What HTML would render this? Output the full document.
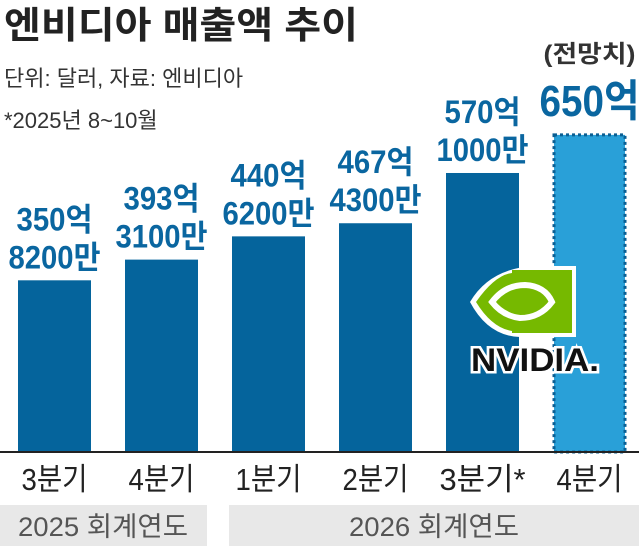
<!DOCTYPE html>
<html><head><meta charset="utf-8"><style>
body{margin:0;background:#fff;}
svg{display:block;font-family:"Liberation Sans","Noto Sans CJK KR",sans-serif;}
</style></head><body>
<svg id="c" width="639" height="546" viewBox="0 0 639 546">
<text x="4" y="38" font-size="37" font-weight="bold" fill="#222" textLength="354" lengthAdjust="spacingAndGlyphs">엔비디아 매출액 추이</text>
<text x="4" y="86" font-size="22" fill="#333">단위: 달러, 자료: 엔비디아</text>
<text x="4" y="128" font-size="22" fill="#333">*2025년 8~10월</text>
<g id="bars"></g>
<line x1="0" y1="452" x2="639" y2="452" stroke="#222" stroke-width="2"/>
<rect x="0" y="505" width="207" height="41" fill="#e8e8e8"/>
<rect x="229" y="505" width="410" height="41" fill="#e8e8e8"/>
<text x="103" y="536" font-size="27" fill="#555" text-anchor="middle" textLength="170" lengthAdjust="spacingAndGlyphs">2025 회계연도</text>
<text x="434" y="536" font-size="27" fill="#555" text-anchor="middle" textLength="170" lengthAdjust="spacingAndGlyphs">2026 회계연도</text>
<g>
<path d="M470 302 Q490 268 535 266 L576 266 L576 337 L520 337 Q488 336 470 302 Z" fill="#fff"/>
<rect x="512" y="270" width="60" height="63" fill="#76b900"/>
<path d="M476 302 Q495 275 512 273 L512 331 Q492 328 476 302 Z" fill="#76b900"/>
<path d="M492 302 Q505 285 525 285 Q545 286 552 302 Q540 318 520 318 Q503 316 492 302 Z" fill="none" stroke="#fff" stroke-width="6"/>
<text x="535" y="371" font-size="32" font-weight="bold" text-anchor="middle" fill="#111" stroke="#fff" stroke-width="5" paint-order="stroke" textLength="128" lengthAdjust="spacingAndGlyphs">NVIDIA.</text>
</g>
</svg>
<script>
const categories=["3분기","4분기","1분기","2분기","3분기*","4분기"];
const values=[350.82,393.1,440.62,467.43,570.1,650];
const line1=["350억","393억","440억","467억","570억","650억"];
const line2=["8200만","3100만","6200만","4300만","1000만",""];
const forecast=[false,false,false,false,false,true];
const NS="http://www.w3.org/2000/svg";
const g=document.getElementById("bars");
const base=452,k=0.4894,x0=18,pitch=107,bw=73;
function y(v){return base-v*k;}
function mk(t,a){const e=document.createElementNS(NS,t);for(const n in a)e.setAttribute(n,a[n]);g.appendChild(e);return e;}
values.forEach((v,i)=>{
 const x=x0+i*pitch,cx=x+bw/2,top=y(v);
 const r=mk("rect",forecast[i]?{x:x+1,y:top+1,width:bw-2,height:base-top-1,fill:"#29a0d8",stroke:"#0b5f93","stroke-width":3,"stroke-dasharray":"3 3"}:{x:x,y:top,width:bw,height:base-top,fill:"#05649c"});
 
 
 const c=mk("text",{x:cx,y:490,"font-size":31,"text-anchor":"middle",fill:"#222",textLength:categories[i].length>3?86:66,lengthAdjust:"spacingAndGlyphs"});c.textContent=categories[i];
 
 
 if(forecast[i]){
  const t=mk("text",{x:cx,y:top-18,"font-size":44,"font-weight":"bold","text-anchor":"middle",fill:"#0a66a0",textLength:100,lengthAdjust:"spacingAndGlyphs"});t.textContent=line1[i];
  
  
  const f=mk("text",{x:cx,y:top-72,"font-size":24,"font-weight":"bold","text-anchor":"middle",fill:"#333",textLength:92,lengthAdjust:"spacingAndGlyphs"});f.textContent="(전망치)";
  
  
 }else{
  const a=mk("text",{x:cx,y:top-50,"font-size":32,"font-weight":"bold","text-anchor":"middle",fill:"#0a66a0",textLength:76,lengthAdjust:"spacingAndGlyphs"});a.textContent=line1[i];
  
  
  const b=mk("text",{x:cx,y:top-12,"font-size":32,"font-weight":"bold","text-anchor":"middle",fill:"#0a66a0",textLength:92,lengthAdjust:"spacingAndGlyphs"});b.textContent=line2[i];
  
  
 }
});
</script>
</body></html>
